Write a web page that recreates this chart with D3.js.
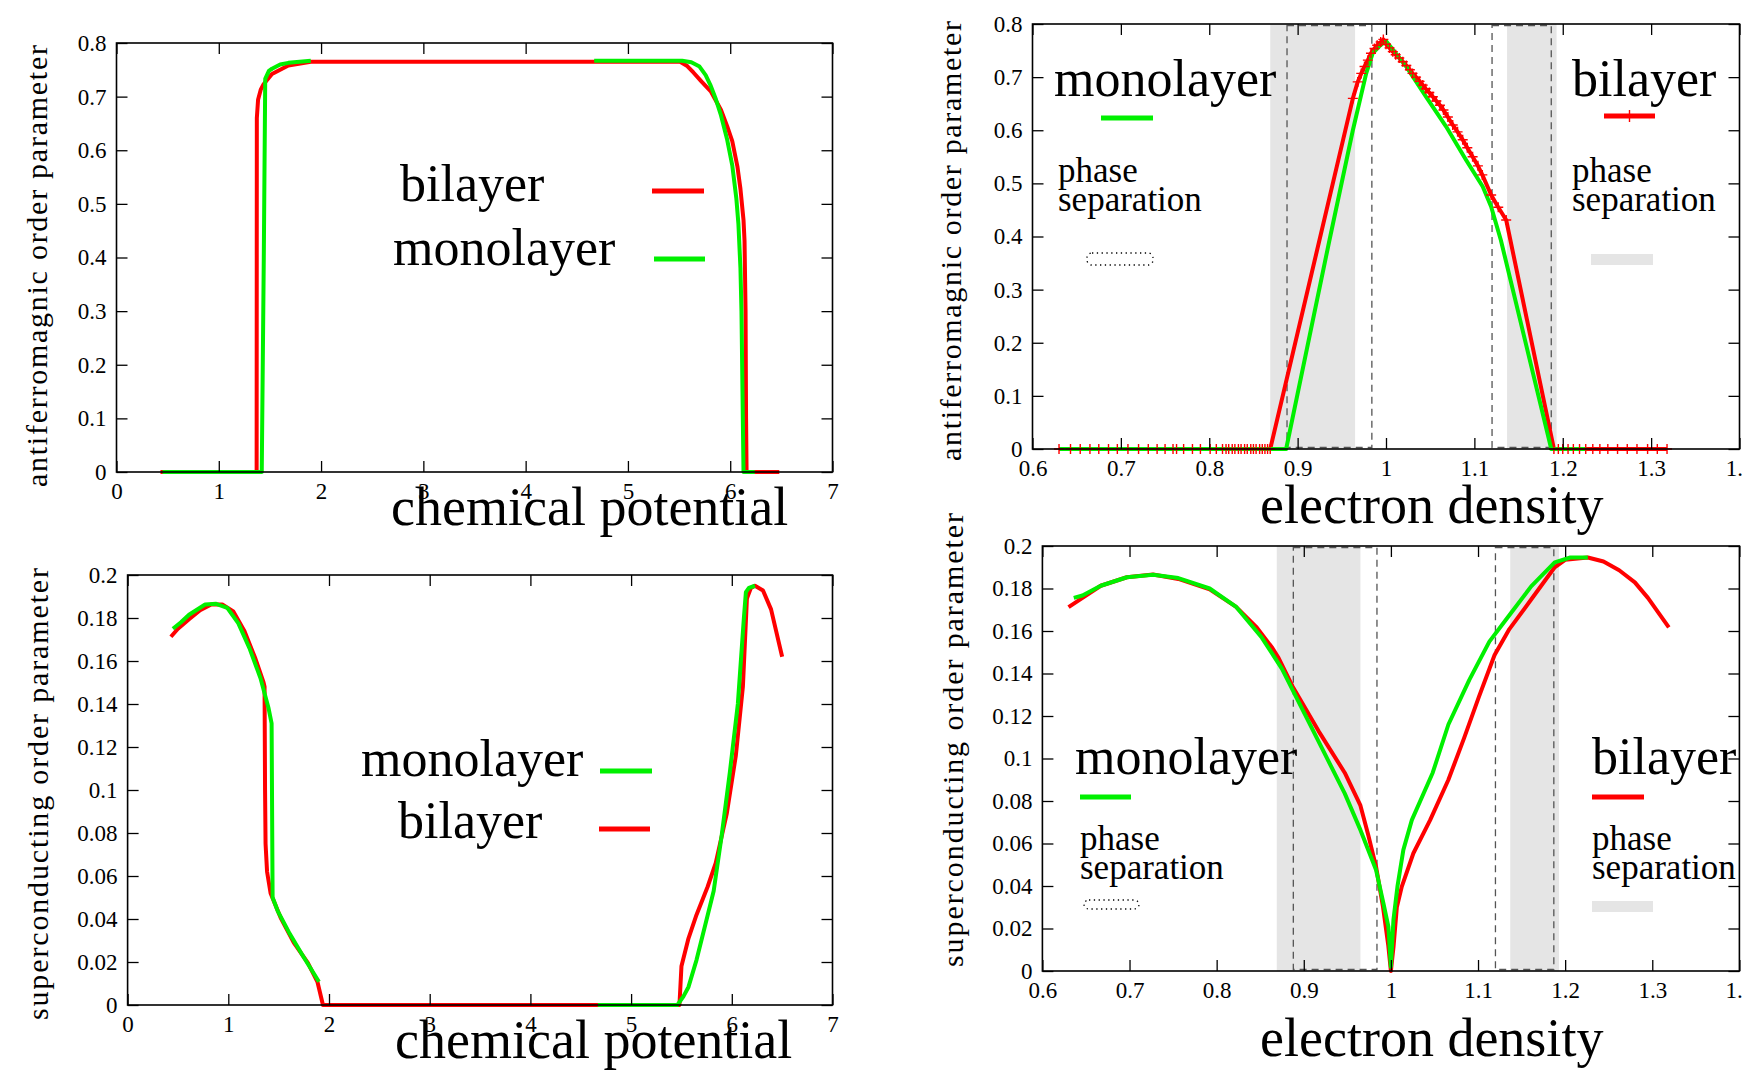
<!DOCTYPE html>
<html>
<head>
<meta charset="utf-8">
<script src="https://cdn.jsdelivr.net/npm/d3@7"></script>
<style>
  body { margin: 0; background: #fff; }
  svg { display: block; background: #fff; }
  text { font-family: "Liberation Serif", "Times New Roman", serif; fill: #000; }
</style>
</head>
<body>
<svg width="1742" height="1073"></svg>
<script>
// tick values
var muTicks = [0, 1, 2, 3, 4, 5, 6, 7];
var nTicks = [0.6, 0.7, 0.8, 0.9, 1, 1.1, 1.2, 1.3, 1.4];
var afTicks = [0, 0.1, 0.2, 0.3, 0.4, 0.5, 0.6, 0.7, 0.8];
var scTicks = [0, 0.02, 0.04, 0.06, 0.08, 0.1, 0.12, 0.14, 0.16, 0.18, 0.2];

// antiferromagnetic order vs chemical potential
var afMuBilayer = [[0.43,0],[1.37,0],[1.372,0.66],[1.384,0.694],[1.41,0.713],[1.438,0.723],[1.52,0.742],
  [1.68,0.758],[1.9,0.765],[3,0.765],[4.5,0.765],[5.51,0.765],[5.58,0.757],[5.64,0.745],[5.72,0.728],
  [5.81,0.71],[5.91,0.675],[5.97,0.645],[6.02,0.617],[6.07,0.57],[6.10,0.528],[6.13,0.47],[6.14,0.431],
  [6.15,0.3],[6.155,0.1],[6.16,0],[6.48,0]];
var afMuMonoLow = [[0.45,0],[1.42,0],[1.44,0.4],[1.454,0.733],[1.49,0.748],[1.52,0.752],[1.6,0.76],
  [1.68,0.763],[1.9,0.767]];
var afMuMonoHigh = [[4.67,0.767],[5.53,0.767],[5.62,0.764],[5.70,0.756],[5.76,0.74],[5.81,0.72],
  [5.86,0.695],[5.91,0.665],[5.97,0.62],[6.02,0.572],[6.06,0.51],[6.08,0.463],[6.10,0.38],[6.11,0.30],
  [6.12,0.15],[6.13,0],[6.24,0]];

// superconducting order vs chemical potential
var scMuBilayer = [[0.43,0.1713],[0.50,0.175],[0.61,0.1794],[0.72,0.1836],[0.83,0.1863],[0.94,0.1863],
  [1.05,0.183],[1.16,0.174],[1.27,0.161],[1.35,0.150],[1.36,0.148],[1.365,0.10],[1.37,0.075],
  [1.385,0.062],[1.42,0.052],[1.52,0.0406],[1.65,0.029],[1.79,0.0196],[1.885,0.0108],[1.94,0],
  [4.67,0],[5.48,0],[5.50,0.018],[5.57,0.031],[5.65,0.042],[5.76,0.055],[5.84,0.066],[5.95,0.089],
  [6.04,0.116],[6.11,0.148],[6.15,0.189],[6.19,0.194],[6.23,0.195],[6.31,0.1928],[6.39,0.184],[6.50,0.162]];
var scMuMonoLow = [[0.45,0.175],[0.53,0.178],[0.61,0.1815],[0.77,0.1863],[0.88,0.1866],[0.99,0.1847],
  [1.10,0.1775],[1.21,0.166],[1.32,0.152],[1.40,0.138],[1.43,0.131],[1.435,0.09],[1.44,0.05],
  [1.49,0.0438],[1.60,0.034],[1.74,0.0229],[1.90,0.0108]];
var scMuMonoHigh = [[4.67,0],[5.46,0],[5.52,0.004],[5.57,0.0084],[5.65,0.021],[5.73,0.036],[5.82,0.053],
  [5.90,0.079],[5.98,0.108],[6.06,0.140],[6.12,0.18],[6.14,0.192],[6.17,0.194],[6.23,0.195]];

// antiferromagnetic order vs electron density
var afNBilayer = [[0.630,0],[0.643,0],[0.654,0],[0.665,0],[0.675,0],[0.686,0],[0.696,0],[0.708,0],
  [0.720,0],[0.731,0],[0.741,0],[0.750,0],[0.759,0],[0.763,0],[0.771,0],[0.781,0],[0.790,0],[0.801,0],
  [0.808,0],[0.815,0],[0.819,0],[0.822,0],[0.826,0],[0.829,0],[0.833,0],[0.836,0],[0.840,0],[0.843,0],
  [0.847,0],[0.850,0],[0.853,0],[0.857,0],[0.860,0],[0.863,0],[0.866,0],[0.869,0],
  [0.9625,0.660],[0.968,0.691],[0.972,0.707],[0.9757,0.720],[0.9795,0.732],[0.983,0.745],[0.987,0.754],
  [0.990,0.760],[0.994,0.766],[0.997,0.771],[1.0,0.762],[1.004,0.755],[1.0077,0.748],[1.011,0.742],
  [1.015,0.736],[1.019,0.729],[1.023,0.722],[1.027,0.714],[1.030,0.707],[1.034,0.700],[1.038,0.692],
  [1.0416,0.685],[1.045,0.678],[1.049,0.671],[1.053,0.663],[1.057,0.655],[1.061,0.647],[1.065,0.638],
  [1.070,0.625],[1.0755,0.610],[1.081,0.597],[1.0868,0.582],[1.092,0.567],[1.098,0.550],[1.104,0.533],
  [1.109,0.516],[1.119,0.478],[1.127,0.455],[1.136,0.431],[1.190,0],[1.195,0],[1.200,0],[1.206,0],
  [1.212,0],[1.219,0],[1.226,0],[1.234,0],[1.242,0],[1.251,0],[1.262,0],[1.273,0],[1.284,0],[1.296,0],
  [1.307,0],[1.318,0]];
var afNMono = [[0.631,0],[0.887,0],[0.936,0.393],[0.9625,0.600],[0.9776,0.707],[0.985,0.745],
  [0.9925,0.758],[1.0,0.768],[1.0228,0.720],[1.0454,0.663],[1.068,0.607],[1.0906,0.544],[1.1094,0.494],
  [1.119,0.456],[1.130,0.393],[1.187,0],[1.227,0]];

// superconducting order vs electron density
var scNBilayer = [[0.630,0.1712],[0.643,0.1748],[0.667,0.1813],[0.697,0.1853],[0.727,0.1866],
  [0.756,0.1845],[0.792,0.1796],[0.822,0.1715],[0.846,0.1617],[0.864,0.152],[0.871,0.1474],
  [0.887,0.134],[0.917,0.1129],[0.947,0.0933],[0.965,0.0779],[0.974,0.064],[0.983,0.049],[0.991,0.03],
  [0.997,0.012],[1.0,0],[1.003,0.0114],[1.0068,0.030],[1.0125,0.0397],[1.0258,0.0554],[1.045,0.071],
  [1.066,0.090],[1.084,0.1096],[1.101,0.129],[1.119,0.1487],[1.136,0.1609],[1.161,0.1748],[1.188,0.190],
  [1.200,0.1935],[1.226,0.1946],[1.244,0.1927],[1.262,0.1886],[1.280,0.1829],[1.295,0.1756],[1.319,0.1617]];
var scNMono = [[0.636,0.1756],[0.646,0.1767],[0.667,0.1813],[0.697,0.1853],[0.727,0.1865],[0.756,0.1849],
  [0.792,0.18],[0.822,0.1715],[0.852,0.1568],[0.875,0.1422],[0.899,0.1226],[0.923,0.1031],[0.947,0.0836],
  [0.965,0.0664],[0.983,0.0475],[0.9914,0.0319],[0.9971,0.0209],[1.0,0.002],[1.0029,0.024],
  [1.0075,0.0397],[1.0143,0.057],[1.024,0.071],[1.048,0.0933],[1.066,0.116],[1.090,0.137],[1.113,0.155],
  [1.137,0.168],[1.161,0.181],[1.188,0.1923],[1.206,0.1946],[1.226,0.1946]];

// phase separation ranges in electron density
var phaseSepMono = [[0.888, 0.984], [1.120, 1.187]];
var phaseSepBilayer = [[0.869, 0.965], [1.137, 1.193]];

var RED = "#ff0000", GREEN = "#00f000", GRAY = "#e5e5e5";

var svg = d3.select("svg");
var fmt = d3.format("~g");

var panels = [
  { left: 116.5, right: 832.5, top: 43, bottom: 472,
    xDomain: [0, 7], yDomain: [0, 0.8], xTicks: muTicks, yTicks: afTicks,
    series: [{ v: afMuBilayer, c: RED }, { v: afMuMonoLow, c: GREEN }, { v: afMuMonoHigh, c: GREEN }],
    xLabel: { t: "chemical potential", x: 391, y: 525 },
    yLabel: { t: "antiferromagnic order parameter", x: 47, y0: 45, y1: 487 },
    legend: [
      { t: "bilayer", x: 400, y: 201, key: { x0: 652, x1: 704, y: 191, c: RED } },
      { t: "monolayer", x: 393, y: 265, key: { x0: 654, x1: 705, y: 259, c: GREEN } }
    ] },
  { left: 127.6, right: 832.5, top: 575, bottom: 1005,
    xDomain: [0, 7], yDomain: [0, 0.2], xTicks: muTicks, yTicks: scTicks,
    series: [{ v: scMuBilayer, c: RED }, { v: scMuMonoLow, c: GREEN }, { v: scMuMonoHigh, c: GREEN }],
    xLabel: { t: "chemical potential", x: 395, y: 1058 },
    yLabel: { t: "superconducting order parameter", x: 48, y0: 568, y1: 1020 },
    legend: [
      { t: "monolayer", x: 361, y: 776, key: { x0: 600, x1: 652, y: 771, c: GREEN } },
      { t: "bilayer", x: 398, y: 838, key: { x0: 599, x1: 650, y: 829, c: RED } }
    ] },
  { left: 1032.5, right: 1739.5, top: 24, bottom: 449,
    xDomain: [0.6, 1.4], yDomain: [0, 0.8], xTicks: nTicks, yTicks: afTicks,
    bands: true,
    series: [{ v: afNBilayer, c: RED, marks: true }, { v: afNMono, c: GREEN }],
    xLabel: { t: "electron density", x: 1260, y: 523 },
    yLabel: { t: "antiferromagnic order parameter", x: 961, y0: 21, y1: 461 },
    legend: [
      { t: "monolayer", x: 1054, y: 96, key: { x0: 1101, x1: 1153, y: 118, c: GREEN } },
      { t: "bilayer", x: 1572, y: 96, key: { x0: 1604, x1: 1655, y: 116, c: RED, plus: true } }
    ],
    sep: [
      { x: 1058, y: 182, box: { x0: 1087, x1: 1153, y0: 253, y1: 265, dotted: true } },
      { x: 1572, y: 182, box: { x0: 1591, x1: 1653, y0: 254, y1: 265 } }
    ] },
  { left: 1042.4, right: 1739.4, top: 546, bottom: 971,
    xDomain: [0.6, 1.4], yDomain: [0, 0.2], xTicks: nTicks, yTicks: scTicks,
    bands: true,
    series: [{ v: scNBilayer, c: RED }, { v: scNMono, c: GREEN }],
    xLabel: { t: "electron density", x: 1260, y: 1056 },
    yLabel: { t: "superconducting order parameter", x: 963, y0: 513, y1: 967 },
    legend: [
      { t: "monolayer", x: 1075, y: 774, key: { x0: 1080, x1: 1131, y: 797, c: GREEN } },
      { t: "bilayer", x: 1592, y: 774, key: { x0: 1592, x1: 1644, y: 797, c: RED } }
    ],
    sep: [
      { x: 1080, y: 850, box: { x0: 1084, x1: 1139, y0: 900, y1: 909, dotted: true } },
      { x: 1592, y: 850, box: { x0: 1592, x1: 1653, y0: 901, y1: 912 } }
    ] }
];

panels.forEach(drawPanel);

function plus(sel, cx, cy, s) {
  sel.append("path")
    .attr("d", "M" + (cx - s) + "," + cy + "H" + (cx + s) + "M" + cx + "," + (cy - s) + "V" + (cy + s))
    .attr("stroke", RED).attr("stroke-width", 1.4).attr("fill", "none");
}

function drawPanel(p) {
  var x = d3.scaleLinear().domain(p.xDomain).range([p.left, p.right]),
      y = d3.scaleLinear().domain(p.yDomain).range([p.bottom, p.top]);
  var g = svg.append("g");

  // phase separation regions
  if (p.bands) {
    g.selectAll(".band").data(phaseSepBilayer).enter().append("rect")
      .attr("x", function(d) { return x(d[0]); })
      .attr("width", function(d) { return x(d[1]) - x(d[0]); })
      .attr("y", y(p.yDomain[1])).attr("height", y(p.yDomain[0]) - y(p.yDomain[1]))
      .attr("fill", GRAY);
    g.selectAll(".dbox").data(phaseSepMono).enter().append("rect")
      .attr("x", function(d) { return x(d[0]); })
      .attr("width", function(d) { return x(d[1]) - x(d[0]); })
      .attr("y", y(p.yDomain[1]) + 1.5).attr("height", y(p.yDomain[0]) - y(p.yDomain[1]) - 3)
      .attr("fill", "none").attr("stroke", "#555").attr("stroke-width", 1.3)
      .attr("stroke-dasharray", "7,5");
  }

  var line = d3.line()
    .x(function(d) { return x(d[0]); })
    .y(function(d) { return y(d[1]); });

  p.series.forEach(function(s) {
    g.append("path")
      .attr("d", line(s.v))
      .attr("fill", "none")
      .attr("stroke", s.c)
      .attr("stroke-width", 4)
      .attr("stroke-linejoin", "round");
  });
  p.series.forEach(function(s) {
    if (!s.marks) return;
    s.v.forEach(function(d) { plus(g, x(d[0]), y(d[1]), 5); });
  });

  // axes, ticks pointing inward on all sides
  g.append("g").attr("transform", "translate(0," + p.bottom + ")")
    .call(d3.axisBottom(x).tickValues(p.xTicks).tickFormat(fmt).tickSizeInner(-11).tickSizeOuter(0).tickPadding(10.5));
  g.append("g").attr("transform", "translate(" + p.left + ",0)")
    .call(d3.axisLeft(y).tickValues(p.yTicks).tickFormat(fmt).tickSizeInner(-11).tickSizeOuter(0).tickPadding(10));
  g.append("g").attr("transform", "translate(0," + p.top + ")")
    .call(d3.axisTop(x).tickValues(p.xTicks).tickFormat("").tickSizeInner(-11).tickSizeOuter(0));
  g.append("g").attr("transform", "translate(" + p.right + ",0)")
    .call(d3.axisRight(y).tickValues(p.yTicks).tickFormat("").tickSizeInner(-11).tickSizeOuter(0));
  g.selectAll(".domain").remove();
  g.selectAll(".tick line").attr("stroke", "#000").attr("stroke-width", 1.3);
  g.selectAll(".tick text")
    .attr("font-family", "Liberation Serif, serif")
    .attr("font-size", 23).attr("fill", "#000");

  g.append("rect")
    .attr("x", p.left).attr("y", p.top)
    .attr("width", p.right - p.left).attr("height", p.bottom - p.top)
    .attr("fill", "none").attr("stroke", "#000").attr("stroke-width", 1.6);

  // axis labels
  g.append("text")
    .attr("x", p.xLabel.x).attr("y", p.xLabel.y)
    .attr("font-size", 54)
    .text(p.xLabel.t);
  g.append("text")
    .attr("transform", "translate(" + p.yLabel.x + "," + (p.yLabel.y0 + p.yLabel.y1) / 2 + ") rotate(-90)")
    .attr("text-anchor", "middle")
    .attr("font-size", 30)
    .attr("textLength", p.yLabel.y1 - p.yLabel.y0)
    .attr("lengthAdjust", "spacing")
    .text(p.yLabel.t);

  // legend
  p.legend.forEach(function(l) {
    g.append("text").attr("x", l.x).attr("y", l.y).attr("font-size", 52).text(l.t);
    g.append("line")
      .attr("x1", l.key.x0).attr("x2", l.key.x1).attr("y1", l.key.y).attr("y2", l.key.y)
      .attr("stroke", l.key.c).attr("stroke-width", 5);
    if (l.key.plus) plus(g, (l.key.x0 + l.key.x1) / 2, l.key.y, 6);
  });

  (p.sep || []).forEach(function(s) {
    var t = g.append("text").attr("font-size", 35);
    t.append("tspan").attr("x", s.x).attr("y", s.y).text("phase");
    t.append("tspan").attr("x", s.x).attr("y", s.y + 29).text("separation");
    var b = g.append("rect")
      .attr("x", s.box.x0).attr("y", s.box.y0)
      .attr("width", s.box.x1 - s.box.x0).attr("height", s.box.y1 - s.box.y0);
    if (s.box.dotted) {
      b.attr("fill", "none").attr("stroke", "#000").attr("stroke-width", 1.3)
        .attr("stroke-dasharray", "1.3,3.5").attr("rx", 5);
    } else {
      b.attr("fill", GRAY);
    }
  });
}
</script>
</body>
</html>
